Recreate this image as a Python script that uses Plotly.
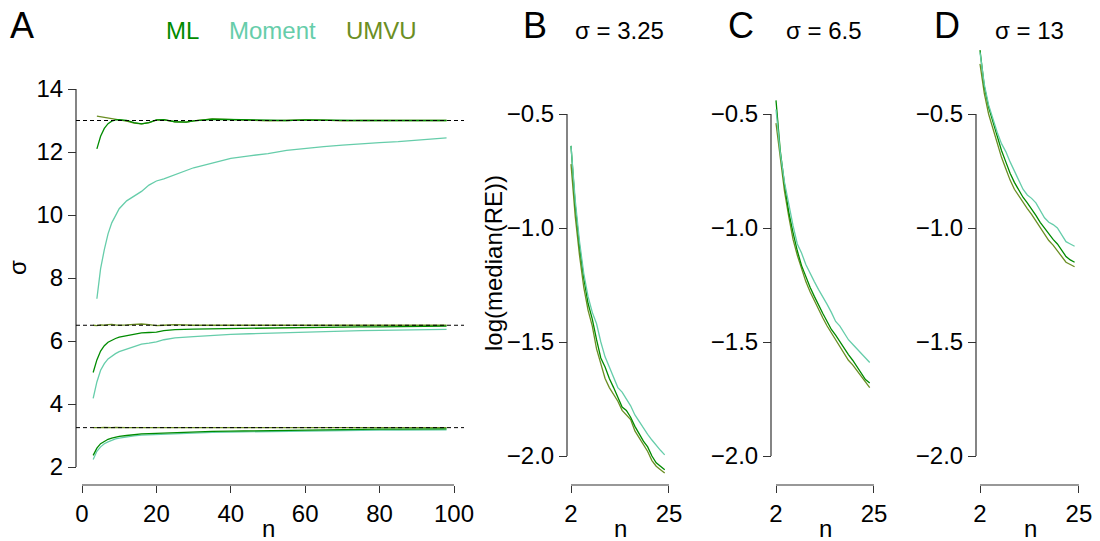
import plotly.graph_objects as go

W, H = 1100, 541
FONT = "Liberation Sans, Arial, sans-serif"

# ---------------- data ----------------
# Panel A: estimated sigma vs n
nA13 = [4, 5, 6, 7, 8, 9, 10, 12, 14, 16, 18, 20, 22, 25, 28, 30, 35, 40, 45, 50,
        55, 60, 65, 70, 75, 80, 85, 90, 95, 98]
ml13 = [12.1, 12.5, 12.75, 12.9, 12.98, 13.02, 13.03, 13.0, 12.93, 12.89, 12.93, 13.02,
        13.03, 12.96, 12.95, 12.99, 13.04, 13.03, 13.01, 12.99, 13.0, 13.02, 13.01, 12.99,
        13.0, 13.0, 13.0, 13.01, 13.0, 13.0]
umvu13 = [13.14, 13.12, 13.1, 13.09, 13.07, 13.04, 13.02, 12.98, 12.92, 12.89, 12.93, 13.01,
          13.02, 12.96, 12.95, 12.99, 13.05, 13.03, 13.01, 12.99, 13.0, 13.02, 13.01, 12.99,
          13.0, 13.0, 13.0, 13.01, 13.0, 13.0]
mom13 = [7.34, 8.3, 8.9, 9.4, 9.75, 10.0, 10.2, 10.45, 10.6, 10.75, 10.95, 11.08, 11.15,
         11.28, 11.4, 11.5, 11.65, 11.8, 11.88, 11.95, 12.05, 12.12, 12.17, 12.22, 12.27,
         12.3, 12.33, 12.38, 12.42, 12.45]

nA = [3, 4, 5, 6, 7, 8, 9, 10, 12, 14, 16, 18, 20, 22, 25, 30, 35, 40, 45, 50,
      55, 60, 65, 70, 75, 80, 85, 90, 95, 98]
ml65 = [5.0, 5.4, 5.68, 5.85, 5.96, 6.03, 6.08, 6.12, 6.17, 6.21, 6.26, 6.27, 6.28, 6.33,
        6.36, 6.38, 6.39, 6.4, 6.41, 6.42, 6.42, 6.43, 6.43, 6.44, 6.45, 6.45, 6.46, 6.46,
        6.47, 6.47]
mom65 = [4.18, 4.7, 5.07, 5.28, 5.43, 5.52, 5.6, 5.66, 5.74, 5.82, 5.9, 5.93, 5.97, 6.04,
         6.1, 6.14, 6.18, 6.21, 6.23, 6.25, 6.27, 6.29, 6.3, 6.31, 6.33, 6.34, 6.35, 6.36,
         6.37, 6.37]
umvu65 = [6.5, 6.49, 6.51, 6.5, 6.52, 6.53, 6.51, 6.5, 6.51, 6.53, 6.54, 6.52, 6.49, 6.5,
          6.52, 6.5, 6.51, 6.5, 6.5, 6.51, 6.5, 6.5, 6.51, 6.5, 6.5, 6.51, 6.5, 6.5, 6.5, 6.5]
ml325 = [2.37, 2.6, 2.74, 2.82, 2.88, 2.92, 2.95, 2.97, 3.0, 3.03, 3.05, 3.06, 3.07, 3.08,
         3.1, 3.12, 3.13, 3.14, 3.15, 3.16, 3.17, 3.17, 3.18, 3.18, 3.19, 3.2, 3.2, 3.2,
         3.21, 3.21]
mom325 = [2.24, 2.5, 2.64, 2.74, 2.8, 2.85, 2.89, 2.92, 2.96, 2.99, 3.01, 3.02, 3.03, 3.05,
          3.06, 3.08, 3.1, 3.11, 3.12, 3.13, 3.14, 3.15, 3.15, 3.16, 3.16, 3.17, 3.17, 3.18,
          3.18, 3.18]
umvu325 = [3.25, 3.24, 3.25, 3.26, 3.25, 3.25, 3.26, 3.25, 3.25, 3.25, 3.26, 3.25, 3.25,
           3.25, 3.25, 3.25, 3.26, 3.25, 3.25, 3.25, 3.25, 3.25, 3.25, 3.25, 3.25, 3.25,
           3.25, 3.25, 3.25, 3.25]
true_sigma = [3.25, 6.5, 13]

# Panels B-D: log(median(RE)) vs n
nRE = list(range(2, 25))
B_ml = [-0.64, -0.90, -1.08, -1.22, -1.33, -1.40, -1.49, -1.57, -1.61, -1.66, -1.70, -1.74,
        -1.785, -1.80, -1.83, -1.87, -1.905, -1.935, -1.96, -2.00, -2.03, -2.045, -2.06]
B_mom = [-0.64, -0.88, -1.06, -1.20, -1.30, -1.37, -1.42, -1.50, -1.565, -1.61, -1.66, -1.70,
         -1.72, -1.75, -1.78, -1.82, -1.85, -1.88, -1.905, -1.93, -1.955, -1.975, -1.995]
B_umvu = [-0.72, -0.95, -1.12, -1.26, -1.36, -1.43, -1.53, -1.60, -1.66, -1.70, -1.73, -1.76,
          -1.80, -1.82, -1.84, -1.89, -1.92, -1.95, -1.98, -2.02, -2.045, -2.06, -2.075]
C_ml = [-0.44, -0.66, -0.81, -0.93, -1.02, -1.10, -1.165, -1.215, -1.26, -1.30, -1.34, -1.375,
        -1.41, -1.445, -1.47, -1.50, -1.525, -1.555, -1.58, -1.61, -1.64, -1.665, -1.68]
C_mom = [-0.48, -0.67, -0.80, -0.90, -0.99, -1.07, -1.11, -1.16, -1.20, -1.235, -1.27, -1.30,
         -1.335, -1.37, -1.41, -1.43, -1.46, -1.49, -1.51, -1.53, -1.55, -1.57, -1.59]
C_umvu = [-0.54, -0.70, -0.84, -0.95, -1.05, -1.12, -1.18, -1.235, -1.28, -1.32, -1.36, -1.395,
          -1.43, -1.46, -1.49, -1.525, -1.55, -1.58, -1.60, -1.625, -1.65, -1.68, -1.70]
D_ml = [-0.22, -0.38, -0.47, -0.535, -0.60, -0.66, -0.71, -0.76, -0.80, -0.835, -0.865, -0.89,
        -0.915, -0.945, -0.975, -1.00, -1.03, -1.05, -1.07, -1.10, -1.125, -1.14, -1.15]
D_mom = [-0.23, -0.37, -0.46, -0.525, -0.58, -0.63, -0.665, -0.71, -0.75, -0.79, -0.83, -0.855,
         -0.87, -0.89, -0.925, -0.955, -0.975, -0.985, -1.00, -1.03, -1.06, -1.07, -1.08]
D_umvu = [-0.28, -0.41, -0.50, -0.565, -0.63, -0.69, -0.74, -0.79, -0.83, -0.86, -0.89, -0.915,
          -0.94, -0.97, -1.00, -1.025, -1.055, -1.075, -1.10, -1.13, -1.15, -1.16, -1.17]

estimators = ["ML", "Moment", "UMVU"]
panel_letters = ["A", "B", "C", "D"]
sigma_titles = ["σ = 3.25", "σ = 6.5", "σ = 13"]
A_xticks = [0, 20, 40, 60, 80, 100]
A_yticks = [2, 4, 6, 8, 10, 12, 14]
RE_xticks = [2, 25]
RE_yticks = [-2.0, -1.5, -1.0, -0.5]

# ---------------- styling ----------------
COL = {"ML": "#008B00", "Moment": "#66CDAA", "UMVU": "#6B8E23"}
LW = 1.3
AXC = "#333333"


def pxx(x):
    return x / W


def pxy(y):
    return 1 - y / H


fig = go.Figure()


def add_line(x, y, est, xa, ya):
    fig.add_trace(go.Scatter(x=x, y=y, mode="lines", xaxis=xa, yaxis=ya,
                             line=dict(color=COL[est], width=LW), showlegend=False,
                             hoverinfo="skip"))


# Panel A
for n_, ml_, mo_, um_ in [(nA13, ml13, mom13, umvu13), (nA, ml65, mom65, umvu65),
                          (nA, ml325, mom325, umvu325)]:
    add_line(n_, um_, "UMVU", "x", "y")
    add_line(n_, mo_, "Moment", "x", "y")
    add_line(n_, ml_, "ML", "x", "y")

# Panels B-D
for k, (ml_, mo_, um_) in enumerate([(B_ml, B_mom, B_umvu), (C_ml, C_mom, C_umvu),
                                     (D_ml, D_mom, D_umvu)]):
    xa, ya = "x%d" % (k + 2), "y%d" % (k + 2)
    add_line(nRE, um_, "UMVU", xa, ya)
    add_line(nRE, ml_, "ML", xa, ya)
    add_line(nRE, mo_, "Moment", xa, ya)

tickfont = dict(family=FONT, size=24, color="black")


def xaxis_cfg(px0, px1, px_at, v_at, px_per, ypos, ticks):
    r0 = v_at + (px0 - px_at) / px_per
    r1 = v_at + (px1 - px_at) / px_per
    return dict(domain=[pxx(px0), pxx(px1)], range=[r0, r1], anchor="free",
                position=pxy(ypos), showgrid=False, zeroline=False, showline=False,
                automargin=False,
                ticks="outside", ticklen=7, tickwidth=1, tickcolor=AXC,
                tickvals=ticks, ticktext=[str(t) for t in ticks], tickfont=tickfont,
                fixedrange=True)


def yaxis_cfg(py0, py1, py_at, v_at, px_per, xpos, ticks, fmt):
    # py0 bottom pixel, py1 top pixel
    r0 = v_at - (py0 - py_at) / px_per
    r1 = v_at - (py1 - py_at) / px_per
    return dict(domain=[pxy(py0), pxy(py1)], range=[r0, r1], anchor="free",
                position=pxx(xpos), showgrid=False, zeroline=False, showline=False,
                automargin=False,
                ticks="outside", ticklen=8, tickwidth=1, tickcolor=AXC,
                tickvals=ticks, ticktext=[fmt(t).replace("-", "\u2212") for t in ticks],
                tickfont=tickfont, fixedrange=True)


layout = dict(width=W, height=H, margin=dict(l=0, r=0, t=0, b=0, autoexpand=False),
              paper_bgcolor="white", plot_bgcolor="rgba(0,0,0,0)", showlegend=False)

X_AXIS_Y = 485
layout["xaxis"] = xaxis_cfg(75, 463, 82, 0, 3.72, X_AXIS_Y, A_xticks)
layout["yaxis"] = yaxis_cfg(482, 70, 89, 14, 31.5, 76, A_yticks, lambda t: str(t))

re_x = [(567, 673, 571, 4.26, 567), (771, 878, 776, 4.26, 771), (976, 1084, 980, 4.30, 976)]
for k, (a, b, at, pp, ypos) in enumerate(re_x):
    layout["xaxis%d" % (k + 2)] = xaxis_cfg(a, b, at, 2, pp, X_AXIS_Y, RE_xticks)
    layout["yaxis%d" % (k + 2)] = yaxis_cfg(482, 45, 114, -0.5, 228, ypos, RE_yticks,
                                             lambda t: "%.1f" % t)

shapes = []
# axis lines (R style, spanning only tick range)
shapes.append(dict(type="line", xref="x", yref="paper", x0=A_xticks[0], x1=A_xticks[-1],
                   y0=pxy(X_AXIS_Y), y1=pxy(X_AXIS_Y), line=dict(color=AXC, width=1.2)))
shapes.append(dict(type="line", xref="paper", yref="y", x0=pxx(76), x1=pxx(76),
                   y0=A_yticks[0], y1=A_yticks[-1], line=dict(color=AXC, width=1.2)))
for k, (a, b, at, pp, ypos) in enumerate(re_x):
    shapes.append(dict(type="line", xref="x%d" % (k + 2), yref="paper",
                       x0=RE_xticks[0], x1=RE_xticks[-1], y0=pxy(X_AXIS_Y), y1=pxy(X_AXIS_Y),
                       line=dict(color=AXC, width=1.2)))
    shapes.append(dict(type="line", xref="paper", yref="y%d" % (k + 2),
                       x0=pxx(ypos), x1=pxx(ypos), y0=RE_yticks[0], y1=RE_yticks[-1],
                       line=dict(color=AXC, width=1.2)))
# true sigma reference lines
for s in true_sigma:
    shapes.append(dict(type="line", xref="paper", yref="y", x0=pxx(76), x1=pxx(464),
                       y0=s, y1=s, line=dict(color="black", width=1, dash="4px,3px"),
                       layer="above"))
layout["shapes"] = shapes

ann = []


def text(x, y, s, size, color="black", angle=0):
    ann.append(dict(x=pxx(x), y=pxy(y), xref="paper", yref="paper", text=s, showarrow=False,
                    xanchor="center", yanchor="middle", textangle=angle,
                    font=dict(family=FONT, size=size, color=color)))


for letter, (x, y) in zip(panel_letters, [(22, 26), (535, 26), (741, 26), (947, 26)]):
    text(x, y, letter, 36)
for est, x in zip(estimators, [182, 272, 381]):
    text(x, 31, est, 24, COL[est])
for st, x in zip(sigma_titles, [619, 824, 1029]):
    text(x, 31, st, 24)
# axis titles
for x in [268, 620, 825, 1030]:
    text(x, 528, "n", 24)
text(17, 268, "σ", 24, angle=-90)
text(494, 263, "log(median(RE))", 24, angle=-90)
layout["annotations"] = ann

fig.update_layout(**layout)
fig.write_html("out.html")
